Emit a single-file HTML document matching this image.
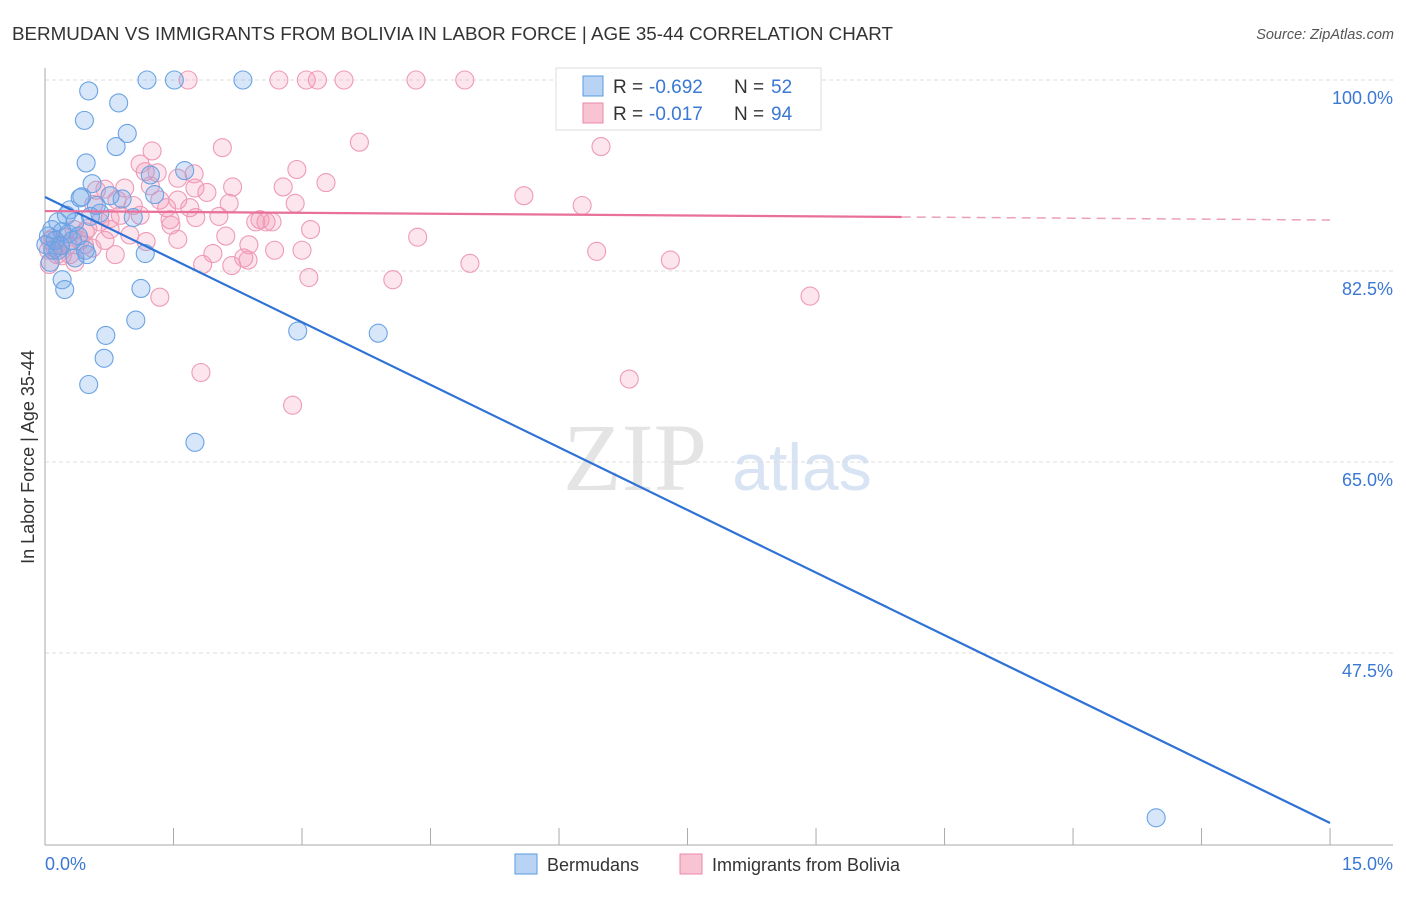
<!DOCTYPE html>
<html><head><meta charset="utf-8"><style>
body{margin:0;background:#fff;font-family:"Liberation Sans",sans-serif}
</style></head><body>
<svg width="1406" height="892" xmlns="http://www.w3.org/2000/svg">
<text x="12" y="40" font-size="18" fill="#333" textLength="881" lengthAdjust="spacingAndGlyphs">BERMUDAN VS IMMIGRANTS FROM BOLIVIA IN LABOR FORCE | AGE 35-44 CORRELATION CHART</text>
<text x="1394" y="39" font-size="14.5" fill="#555" font-style="italic" text-anchor="end">Source: ZipAtlas.com</text>
<g><text x="635" y="490" font-size="96" fill="#e4e4e4" font-family="Liberation Serif" text-anchor="middle">ZIP</text><text x="802" y="490" font-size="66" fill="#d8e4f4" text-anchor="middle">atlas</text></g>
<g id="grid"></g><g id="axes"></g><g id="pts"></g><g id="lines"></g>
<text transform="translate(34,457) rotate(-90)" font-size="18" fill="#333" text-anchor="middle">In Labor Force | Age 35-44</text>
<g>
<rect x="556" y="68" width="265" height="62" fill="#fff" stroke="#ddd"/>
<rect x="583" y="76" width="20" height="20" fill="#b9d3f5" stroke="#5b9be0"/>
<rect x="583" y="103" width="20" height="20" fill="#f8c3d3" stroke="#e88aaa"/>
<text x="613" y="93" font-size="19" fill="#333">R =</text><text x="649" y="93" font-size="19" fill="#3a78d4">-0.692</text>
<text x="734" y="93" font-size="19" fill="#333">N =</text><text x="771" y="93" font-size="19" fill="#3a78d4">52</text>
<text x="613" y="120" font-size="19" fill="#333">R =</text><text x="649" y="120" font-size="19" fill="#3a78d4">-0.017</text>
<text x="734" y="120" font-size="19" fill="#333">N =</text><text x="771" y="120" font-size="19" fill="#3a78d4">94</text>
</g>
<g>
<rect x="515" y="854" width="22" height="20" fill="#b9d3f5" stroke="#5b9be0"/><text x="547" y="871" font-size="18" fill="#333">Bermudans</text>
<rect x="680" y="854" width="22" height="20" fill="#f8c3d3" stroke="#e88aaa"/><text x="712" y="871" font-size="18" fill="#333">Immigrants from Bolivia</text>
</g>
</svg>
<script>
const blueX=[1.19,1.51,2.31,0.51,0.86,0.46,0.96,0.83,0.48,1.63,0.55,0.43,0.41,0.60,0.76,0.90,1.28,0.29,0.25,0.15,0.35,1.03,0.08,0.20,0.04,0.12,0.27,0.39,0.15,0.35,0.49,0.06,0.20,0.23,1.17,1.12,1.06,0.71,0.69,0.51,1.75,2.95,3.89,12.97,1.23,0.47,0.09,0.01,0.18,0.64,0.32,0.53];
const blueY=[100,100,100,99.0,97.9,96.3,95.1,93.9,92.4,91.7,90.5,89.3,89.2,88.5,89.4,89.1,89.5,88.1,87.6,87.0,87.0,87.4,86.3,86.1,85.7,85.3,85.9,85.7,84.4,83.7,84.0,83.3,81.7,80.8,84.1,80.9,78.0,76.6,74.5,72.1,66.8,77.0,76.8,32.4,91.3,84.4,84.4,84.9,84.8,87.8,85.3,87.5];
const pinkX=[1.67,2.73,3.05,3.18,3.49,4.33,4.90,3.67,6.49,2.07,1.25,1.11,2.94,1.74,1.17,1.31,1.55,3.28,2.78,2.19,0.60,0.70,0.93,1.23,1.75,1.89,5.59,6.27,2.92,2.15,1.55,0.84,1.03,1.42,0.57,2.03,1.76,0.76,1.46,2.51,2.58,2.65,2.46,1.47,3.10,2.11,4.35,1.55,1.18,0.09,0.18,0.27,0.46,0.76,0.50,0.64,0.14,0.05,0.04,1.96,2.38,2.68,3.00,2.32,2.37,1.84,2.18,4.96,7.30,6.44,3.08,4.06,1.34,8.93,1.82,6.82,2.89,0.34,0.41,0.23,0.29,0.82,0.99,0.12,0.20,1.11,1.34,1.69,0.88,0.47,0.70,0.55,0.06,0.35];
const pinkY=[100,100,100,100,100,100,100,94.3,93.9,93.8,93.5,92.3,91.8,91.4,91.6,91.5,91.0,90.6,90.2,90.2,89.9,90.0,90.1,90.3,90.1,89.7,89.4,88.5,88.7,88.7,89.0,89.0,88.5,88.3,88.6,87.5,87.4,87.3,87.2,87.2,87.0,87.0,87.0,86.7,86.3,85.7,85.6,85.4,85.2,85.5,84.9,84.9,84.9,86.3,86.4,87.0,84.0,83.1,84.4,84.1,84.9,84.4,84.4,83.7,83.5,83.1,83.0,83.2,83.5,84.3,81.9,81.7,80.1,80.2,73.2,72.6,70.2,86.3,85.3,85.6,84.0,84.0,85.8,84.6,83.9,87.6,89.0,88.3,87.6,86.1,85.3,84.6,85.3,83.3];
const yTicks=[100,82.5,65,47.5];
const yTickLabels=["100.0%","82.5%","65.0%","47.5%"];
const blueTrend=[[0,89.28],[15,31.92]];
const pinkTrend=[[0,87.99],[10,87.45],[15,87.17]];
const NS="http://www.w3.org/2000/svg";
const sx=v=>45+v*85.67, sy=v=>80+(100-v)*10.914;
function mk(t,a,p){const e=document.createElementNS(NS,t);for(const k in a)e.setAttribute(k,a[k]);document.getElementById(p).appendChild(e);return e;}
yTicks.forEach((t,i)=>{
 const g=mk('line',{x1:45,x2:1393,y1:sy(t),y2:sy(t),stroke:'#ddd','stroke-dasharray':'4,3'},'grid');
 
 
 const l=mk('text',{x:1393,y:sy(t)+24,'font-size':18,fill:'#3a78d4','text-anchor':'end'},'grid');l.textContent=yTickLabels[i];
 
 
});
mk('line',{x1:45,x2:45,y1:68,y2:845,stroke:'#aaa'},'axes');
mk('line',{x1:45,x2:1393,y1:845,y2:845,stroke:'#aaa'},'axes');
for(let i=1;i<=10;i++){const t=mk('line',{x1:sx(i*1.5),x2:sx(i*1.5),y1:828,y2:845,stroke:'#aaa'},'axes');
 
 }
let a=mk('text',{x:45,y:870,'font-size':18,fill:'#3a78d4'},'axes');a.textContent='0.0%';

let b=mk('text',{x:1393,y:870,'font-size':18,fill:'#3a78d4','text-anchor':'end'},'axes');b.textContent='15.0%';

pinkX.forEach((x,i)=>{const c=mk('circle',{cx:sx(x),cy:sy(pinkY[i]),r:9,fill:'rgba(242,150,180,0.25)',stroke:'#ef9ab6','stroke-width':1.1},'pts');
 
 });
blueX.forEach((x,i)=>{const c=mk('circle',{cx:sx(x),cy:sy(blueY[i]),r:9,fill:'rgba(110,165,235,0.28)',stroke:'#6aa3e4','stroke-width':1.1},'pts');
 
 });
let bl=mk('line',{x1:sx(blueTrend[0][0]),y1:sy(blueTrend[0][1]),x2:sx(blueTrend[1][0]),y2:sy(blueTrend[1][1]),stroke:'#2f72d6','stroke-width':2.2},'lines');


let p1=mk('line',{x1:sx(pinkTrend[0][0]),y1:sy(pinkTrend[0][1]),x2:sx(pinkTrend[1][0]),y2:sy(pinkTrend[1][1]),stroke:'#e8709a','stroke-width':2.2},'lines');


let p2=mk('line',{x1:sx(pinkTrend[1][0]),y1:sy(pinkTrend[1][1]),x2:sx(pinkTrend[2][0]),y2:sy(pinkTrend[2][1]),stroke:'#eba0b8','stroke-width':1.5,'stroke-dasharray':'9,6'},'lines');


</script>
</body></html>
